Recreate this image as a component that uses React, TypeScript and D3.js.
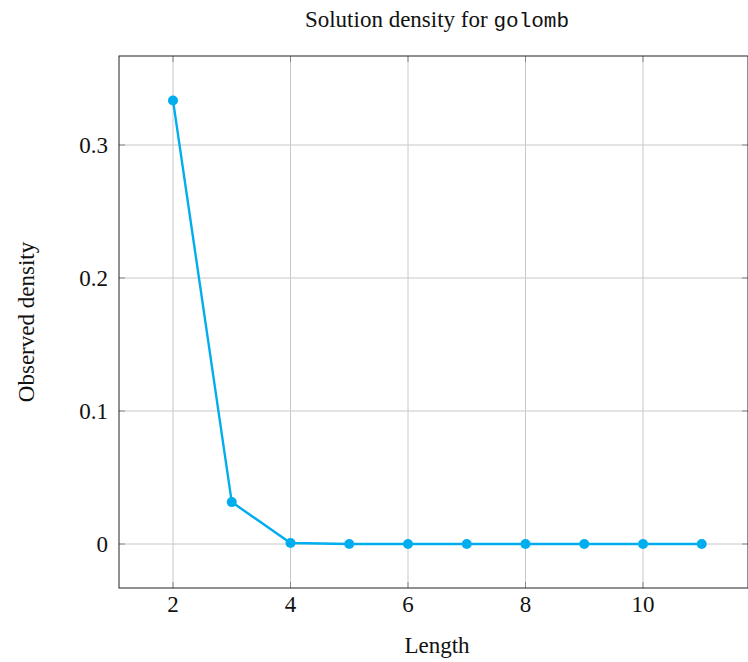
import React from "react";
import * as d3 from "d3";

const lengths = [2, 3, 4, 5, 6, 7, 8, 9, 10, 11];
const densities = [0.3335, 0.0315, 0.0008, 0, 0, 0, 0, 0, 0, 0];
const xTicks = [2, 4, 6, 8, 10];
const yTicks = [0, 0.1, 0.2, 0.3];
const yTickLabels = ["0", "0.1", "0.2", "0.3"];

export default function App() {
  const W = 748, H = 662;
  const left = 119, right = 748, top = 56, bottom = 588;
  const x = d3.scaleLinear().domain([2, 10]).range([173, 643]);
  const y = d3.scaleLinear().domain([0, 0.3]).range([544, 145]);
  const line = d3.line<number>().x((_, i) => x(lengths[i])).y((d) => y(d));
  const serif = "'Liberation Serif', 'Times New Roman', serif";
  return (
    <svg width={W} height={H} style={{ position: "absolute", left: 0, top: 0 }}>
      <rect x={0} y={0} width={W} height={H} fill="white" />
      {xTicks.map((t) => (
        <line key={"gx" + t} x1={x(t)} x2={x(t)} y1={top} y2={bottom} stroke="#c8c8c8" strokeWidth={1} />
      ))}
      {yTicks.map((t) => (
        <line key={"gy" + t} x1={left} x2={right} y1={y(t)} y2={y(t)} stroke="#c8c8c8" strokeWidth={1} />
      ))}
      {xTicks.map((t) => (
        <g key={"tx" + t}>
          <line x1={x(t)} x2={x(t)} y1={bottom} y2={bottom - 6} stroke="#888" strokeWidth={1} />
          <line x1={x(t)} x2={x(t)} y1={top} y2={top + 6} stroke="#888" strokeWidth={1} />
          <text x={x(t)} y={612} textAnchor="middle" fontFamily={serif} fontSize={23} fill="#111">{t}</text>
        </g>
      ))}
      {yTicks.map((t, i) => (
        <g key={"ty" + t}>
          <line x1={left} x2={left + 6} y1={y(t)} y2={y(t)} stroke="#888" strokeWidth={1} />
          <line x1={right} x2={right - 6} y1={y(t)} y2={y(t)} stroke="#888" strokeWidth={1} />
          <text x={108} y={y(t)} dy="0.35em" textAnchor="end" fontFamily={serif} fontSize={23} fill="#111">{yTickLabels[i]}</text>
        </g>
      ))}
      <rect x={left} y={top} width={right - left} height={bottom - top} fill="none" stroke="#222" strokeWidth={1} />
      <path d={line(densities) || ""} fill="none" stroke="#00AEEF" strokeWidth={2.4} />
      {densities.map((d, i) => (
        <circle key={"p" + i} cx={x(lengths[i])} cy={y(d)} r={5} fill="#00AEEF" />
      ))}
      <text x={437} y={27} textAnchor="middle" fontFamily={serif} fontSize={23} fill="#111">
        Solution density for <tspan fontFamily="'Liberation Mono', 'DejaVu Sans Mono', monospace" fontSize={21}>golomb</tspan>
      </text>
      <text x={437} y={653} textAnchor="middle" fontFamily={serif} fontSize={23} fill="#111">Length</text>
      <text transform={`translate(34,322) rotate(-90)`} textAnchor="middle" fontFamily={serif} fontSize={23} fill="#111">Observed density</text>
    </svg>
  );
}
